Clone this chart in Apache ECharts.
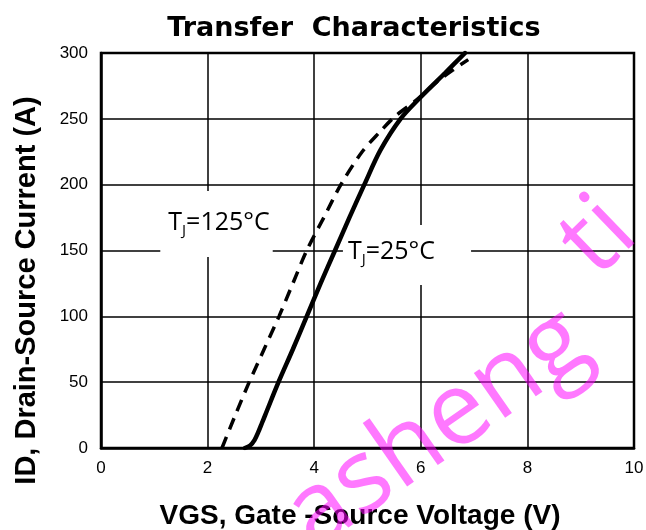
<!DOCTYPE html>
<html>
<head>
<meta charset="utf-8">
<script src="https://cdn.jsdelivr.net/npm/echarts@6/dist/echarts.min.js"></script>
<style>html,body{margin:0;padding:0;background:#fff}#c{width:646px;height:530px}</style>
</head>
<body>
<div id="c"></div>
<script>
// Tj = 25 °C (solid)
const vgs25 = [2.70, 2.80, 2.88, 2.95, 3.02, 3.08, 3.33, 3.60, 3.86, 4.12, 4.39, 4.66, 4.94, 5.24, 5.62, 6.01, 6.46, 6.83];
const id25  = [0,    2,    6,    12,   19,   25,   50,   75,   100,  125,  150,  175,  200,  226,  250,  267,  285,  300];
// Tj = 125 °C (dashed)
const vgs125 = [2.27, 2.52, 2.78, 3.06, 3.34, 3.60, 3.86, 4.18, 4.50, 4.90, 5.23, 5.52, 5.91, 6.30, 6.60, 6.89];
const id125  = [0,    25,   50,   75,   100,  125,  150,  175,  200,  225,  240,  252,  264,  278,  287,  295];

const titleText = 'Transfer  Characteristics';
const xName = 'VGS, Gate -Source Voltage (V)';
const yName = 'ID, Drain-Source Current (A)';
const curveLabels = ['125°C', '25°C'];
const watermarkWords = ['asheng', 'ti'];

const zip = (a, b) => a.map((v, i) => [v, b[i]]);

const chart = echarts.init(document.getElementById('c'), null, {renderer: 'canvas'});

const labelRich = {
  t: {fontFamily: 'Open Sans', fontSize: 25, color: '#000', lineHeight: 30},
  s: {fontFamily: 'Open Sans', fontSize: 15, color: '#000', lineHeight: 14, verticalAlign: 'bottom'}
};

const wmFill = 'rgba(255,0,255,0.53)';

chart.setOption({
  animation: false,
  backgroundColor: '#fff',
  title: {
    text: titleText,
    left: 349,
    textAlign: 'center',
    top: 9,
    textStyle: {fontFamily: 'DejaVu Sans', fontWeight: 'bold', fontSize: 27, color: '#000', lineHeight: 30}
  },
  grid: {left: 101, right: 12, top: 53, bottom: 82, show: true, borderColor: '#000', borderWidth: 2.5, backgroundColor: 'transparent', outerBoundsMode: 'none', containLabel: false},
  xAxis: {
    type: 'value', min: 0, max: 10, interval: 2,
    name: xName, nameLocation: 'middle', nameGap: 54,
    nameTextStyle: {fontFamily: 'Liberation Sans', fontWeight: 'bold', fontSize: 28, color: '#000', padding: [0, 15, 0, 0]},
    axisLine: {lineStyle: {color: '#000', width: 2.5}},
    axisTick: {show: false},
    axisLabel: {fontFamily: 'Liberation Sans', fontSize: 17, color: '#000', margin: 12},
    splitLine: {show: true, lineStyle: {color: '#000', width: 1.5}}
  },
  yAxis: {
    type: 'value', min: 0, max: 300, interval: 50,
    name: yName, nameLocation: 'middle', nameGap: 60,
    nameTextStyle: {fontFamily: 'Liberation Sans', fontWeight: 'bold', fontSize: 29, color: '#000', padding: [0, 80, 0, 0]},
    axisLine: {lineStyle: {color: '#000', width: 2.5}},
    axisTick: {show: false},
    axisLabel: {fontFamily: 'Liberation Sans', fontSize: 17, color: '#000', margin: 13},
    splitLine: {show: true, lineStyle: {color: '#000', width: 1.5}}
  },
  series: [
    {
      type: 'scatter', z: 1, symbolSize: 0, silent: true,
      itemStyle: {opacity: 1},
      data: [
        {value: [2.167, 170.1], label: {padding: [17, 3, 19, 8], formatter: '{t|T}{s|J}{t|=' + curveLabels[0] + '}'}},
        {value: [5.741, 146.6], label: {padding: [12, 36, 18, 5], formatter: '{t|T}{s|J}{t|=' + curveLabels[1] + '}'}}
      ],
      label: {show: true, position: 'inside', opacity: 1, backgroundColor: '#fff', rich: labelRich}
    },
    {
      type: 'line', z: 3, name: 'Tj=25°C', showSymbol: false, smooth: 0.3,
      data: zip(vgs25, id25),
      lineStyle: {color: '#000', width: 4.5, cap: 'round'}
    },
    {
      type: 'line', z: 3, name: 'Tj=125°C', showSymbol: false, smooth: 0.3,
      data: zip(vgs125, id125),
      lineStyle: {color: '#000', width: 3.5, type: [12, 8]}
    }
  ],
  graphic: [
    {
      type: 'text', z: 100, silent: true,
      x: 297, y: 528, rotation: 35 * Math.PI / 180,
      style: {text: watermarkWords[0], font: '102px "Open Sans"', fill: wmFill, align: 'left', verticalAlign: 'middle'}
    },
    {
      type: 'text', z: 100, silent: true,
      x: 577, y: 259, rotation: 44 * Math.PI / 180,
      style: {text: watermarkWords[1], font: '100px "Open Sans"', fill: wmFill, align: 'left', verticalAlign: 'middle'}
    }
  ]
});
</script>
</body>
</html>
